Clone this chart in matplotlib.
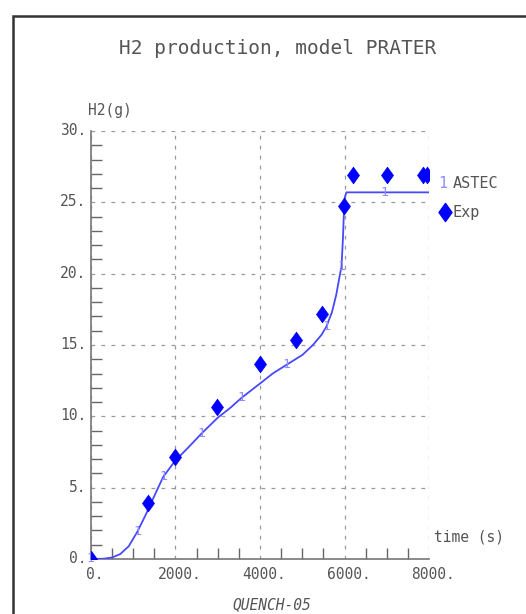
import matplotlib
matplotlib.use("Agg")
import matplotlib.pyplot as plt
from matplotlib.patches import Rectangle
from matplotlib.path import Path
import matplotlib.transforms as mtransforms
import numpy as np

# ASTEC computed hydrogen mass (time in s, H2 in g)
astec_time = [0, 300, 500, 700, 900, 1100, 1300, 1500, 1715, 2000, 2300, 2620,
              3000, 3300, 3565, 4000, 4300, 4620, 5000, 5250, 5450, 5570, 5700,
              5800, 5880, 5926, 5960, 5985, 6000, 6040, 8000]
astec_h2 = [0.0, 0.02, 0.1, 0.35, 0.9, 1.9, 3.1, 4.4, 5.77, 6.9, 7.8, 8.8,
            9.9, 10.6, 11.3, 12.3, 13.0, 13.6, 14.3, 15.0, 15.7, 16.3, 17.3,
            18.5, 19.8, 20.5, 22.5, 24.5, 25.3, 25.7, 25.7]
# curve points carrying the "1" curve tag
tag_time = [0, 1110, 1715, 2620, 3565, 4620, 5570, 5926, 6950]

# Experimental measurements
exp_time = [0, 1360, 1990, 2990, 4000, 4840, 5470, 5990, 6190, 6990, 7860, 7950]
exp_h2 = [0.0, 3.9, 7.15, 10.65, 13.65, 15.35, 17.15, 24.75, 26.95, 26.95, 26.95, 26.95]

x_ticks = [0, 2000, 4000, 6000, 8000]
x_ticklabels = ["0.", "2000.", "4000.", "6000.", "8000."]
y_ticks = [0, 5, 10, 15, 20, 25, 30]
y_ticklabels = ["0.", "5.", "10.", "15.", "20.", "25.", "30."]

GRAY = "#555555"
LINE_BLUE = "#4848ff"
TAG_BLUE = "#8c8cff"
MARK_BLUE = "#0000ff"
MONO = ["DejaVu Sans Mono"]

# rhombus a little taller than wide
DIAMOND = Path([(0, 1), (0.72, 0), (0, -1), (-0.72, 0), (0, 1)],
               [Path.MOVETO, Path.LINETO, Path.LINETO, Path.LINETO, Path.CLOSEPOLY])

W, H = 526, 614
fig = plt.figure(figsize=(W / 100, H / 100), dpi=100)

# page frame (only top and left edges fall inside the image)
fig.patches.append(Rectangle((13 / W, -0.1), 1.2, 1 - 16 / H + 0.1,
                             transform=fig.transFigure, fill=False,
                             edgecolor="#333333", linewidth=1.8))

ax = fig.add_axes([90.7 / W, 1 - 559 / H, (429.3 - 90.7) / W, (559 - 131) / H])
ax.set_xlim(0, 8000)
ax.set_ylim(0, 30)

for s in ["top", "right"]:
    ax.spines[s].set_visible(False)
for s in ["left", "bottom"]:
    ax.spines[s].set_color("#777777")
    ax.spines[s].set_linewidth(1.2)

ax.set_xticks(x_ticks)
ax.set_xticklabels(x_ticklabels)
ax.set_yticks(y_ticks)
ax.set_yticklabels(y_ticklabels)
ax.set_xticks(np.arange(0, 8001, 500), minor=True)
ax.set_yticks(np.arange(0, 31, 1), minor=True)
ax.tick_params(which="both", direction="in", length=8, color="#666666", width=1)
ax.tick_params(axis="x", which="major", length=0, pad=6, labelsize=10.5,
               labelcolor=GRAY)
ax.tick_params(axis="y", which="major", length=0, pad=3, labelsize=10.5,
               labelcolor=GRAY)
for lab in ax.get_xticklabels() + ax.get_yticklabels():
    lab.set_family(MONO)
shift_up = mtransforms.ScaledTranslation(0, 2 / 100, fig.dpi_scale_trans)
for lab in ax.get_yticklabels():
    lab.set_transform(lab.get_transform() + shift_up)
shift_right = mtransforms.ScaledTranslation(4 / 100, 0, fig.dpi_scale_trans)
for lab in ax.get_xticklabels():
    lab.set_transform(lab.get_transform() + shift_right)

ax.grid(True, which="major", color="#999999", linestyle=(0, (3, 5)), linewidth=0.9)

# ASTEC curve
ax.plot(astec_time, astec_h2, color=LINE_BLUE, linewidth=1.3, zorder=3)
tag_h2 = np.interp(tag_time, astec_time, astec_h2)
for t, h in zip(tag_time, tag_h2):
    ax.text(t, h, "1", color=TAG_BLUE, fontsize=9.5, family=MONO,
            ha="center", va="center", zorder=4)

# experiment
ax.plot(exp_time, exp_h2, linestyle="none", marker=DIAMOND, markersize=12,
        color=MARK_BLUE, markeredgecolor=MARK_BLUE, markeredgewidth=0.5, zorder=5)

# titles and labels
fig.text(278 / W, 1 - 48 / H, "H2 production, model PRATER", ha="center",
         va="center", fontsize=14, color=GRAY, family=MONO)
fig.text(88 / W, 1 - 110 / H, "H2(g)", ha="left", va="center", fontsize=10.5,
         color=GRAY, family=MONO)
fig.text(434 / W, 1 - 537 / H, "time (s)", ha="left", va="center",
         fontsize=10.5, color=GRAY, family=MONO)
fig.text(272 / W, 1 - 605 / H, "QUENCH-05", ha="center", va="center",
         fontsize=10.5, color=GRAY, family=MONO, style="italic")

# legend
fig.text(438 / W, 1 - 183 / H, "1", ha="left", va="center", fontsize=11,
         color=TAG_BLUE, family=MONO)
fig.text(453 / W, 1 - 183 / H, "ASTEC", ha="left", va="center", fontsize=11,
         color=GRAY, family=MONO)
fig.lines.append(plt.Line2D([445 / W], [1 - 212 / H], transform=fig.transFigure,
                            marker=DIAMOND, markersize=13, color=MARK_BLUE,
                            linestyle="none"))
fig.text(452 / W, 1 - 213 / H, "Exp", ha="left", va="center", fontsize=11,
         color=GRAY, family=MONO)

fig.savefig("out.png", dpi=100)
